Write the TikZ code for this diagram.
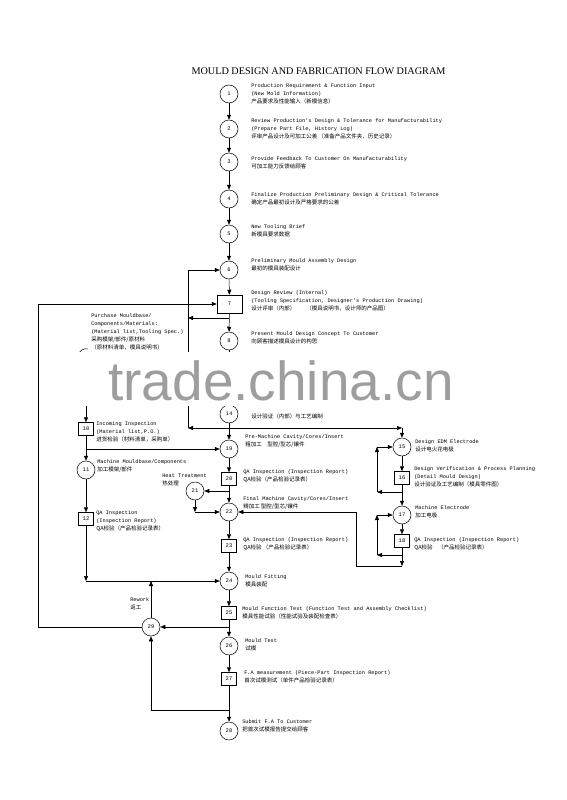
\documentclass[tikz,border=0pt]{standalone}
\usepackage{fontspec}
\setmainfont{Liberation Serif}
\newfontfamily\monof{Liberation Mono}
\newfontfamily\cjk{Noto Sans CJK SC}
\newfontfamily\wmf{Liberation Sans}
\usetikzlibrary{arrows.meta}
\newcommand\zh[1]{{\cjk\fontsize{5.5}{8}\selectfont #1}}
\begin{document}
\begin{tikzpicture}[x=1pt,y=-1pt,line width=0.5pt,
  cnode/.style={circle,draw,minimum size=18pt,inner sep=0pt,font=\monof\fontsize{5.5}{6}\selectfont},
  bnode/.style={rectangle,draw,minimum width=15pt,minimum height=13pt,inner sep=0pt,font=\monof\fontsize{5.5}{6}\selectfont},
  lbl/.style={anchor=west,align=left,inner sep=0pt,font=\monof\fontsize{5.3}{8}\selectfont},
  arr/.style={-{Triangle[length=5pt,width=4pt]}}]
\useasboundingbox (0,0) rectangle (566,800);
\fill[white] (0,0) rectangle (566,800);
\node[font=\fontsize{10.2}{12}\selectfont] (title) at (318.5,71) {MOULD DESIGN AND FABRICATION FLOW DIAGRAM};
% main column
\node[cnode] (n1) at (229,94) {1};
\node[cnode] (n2) at (229,129) {2};
\node[cnode] (n3) at (229,162) {3};
\node[cnode] (n4) at (229,199) {4};
\node[cnode] (n5) at (229,234) {5};
\node[cnode] (n6) at (229,270) {6};
\node[bnode,minimum width=25pt,minimum height=18pt] (n7) at (229.5,304) {7};
\node[cnode] (n8) at (229,341) {8};
\node[cnode] (n14) at (229,414) {14};
\node[cnode] (n19) at (229,449) {19};
\node[bnode] (n20) at (229,479) {20};
\node[cnode] (n22) at (229,512) {22};
\node[bnode] (n23) at (229,546) {23};
\node[cnode] (n24) at (229,581) {24};
\node[bnode] (n25) at (229,613) {25};
\node[cnode] (n26) at (229,646) {26};
\node[bnode] (n27) at (229,679) {27};
\node[cnode] (n28) at (229,731) {28};
\node[cnode] (n29) at (151,627) {29};
\node[cnode] (n21) at (195,491) {21};
% left column
\node[bnode] (n10) at (86,429) {10};
\node[cnode] (n11) at (86,470) {11};
\node[bnode] (n12) at (86,519) {12};
% right column
\node[cnode] (n15) at (402,447) {15};
\node[bnode] (n16) at (402,478) {16};
\node[cnode] (n17) at (402,515) {17};
\node[bnode] (n18) at (402,541) {18};
% labels
\node[lbl] (l1) at (251,94) {Production Requirement \& Function Input\\(New Mold Information)\\\zh{产品要求及性能输入（新模信息）}};
\node[lbl] (l2) at (251,129) {Review Production's Design \& Tolerance for Manufacturability\\(Prepare Part File, History Log)\\\zh{评审产品设计及可加工公差 （准备产品文件夹，历史记录）}};
\node[lbl] (l3) at (251,163) {Provide Feedback To Customer On Manufacturability\\\zh{可加工能力反馈给顾客}};
\node[lbl] (l4) at (251,199) {Finalize Production Preliminary Design \& Critical Tolerance\\\zh{确定产品最初设计及严格要求的公差}};
\node[lbl] (l5) at (251,231) {New Tooling Brief\\\zh{新模具要求数据}};
\node[lbl] (l6) at (251,265) {Preliminary Mould Assembly Design\\\zh{最初的模具装配设计}};
\node[lbl] (l7) at (251,301) {Design Review (Internal)\\(Tooling Specification, Designer's Production Drawing)\\\zh{设计评审（内部）\quad\quad（模具说明书，设计师的产品图）}};
\node[lbl] (l8) at (251,338) {Present Mould Design Concept To Customer\\\zh{向顾客描述模具设计的构思}};
\node[lbl] (l14) at (251,416) {\zh{设计验证（内部）与工艺编制}};
\node[lbl] (l19) at (245,441) {Pre-Machine Cavity/Cores/Insert\\\zh{粗加工\quad 型腔/型芯/镶件}};
\node[lbl] (l20) at (243,476) {QA Inspection (Inspection Report)\\\zh{QA检验（产品检验记录表）}};
\node[lbl] (l22) at (243,503) {Final Machine Cavity/Cores/Insert\\\zh{精加工 型腔/型芯/镶件}};
\node[lbl] (l23) at (243,544) {QA Inspection (Inspection Report)\\\zh{QA检验 （产品检验记录表）}};
\node[lbl] (l24) at (245,581) {Mould Fitting\\\zh{模具装配}};
\node[lbl] (l25) at (242,613) {Mould Function Test  (Function Test and Assembly Checklist)\\\zh{模具性能试验（性能试验及装配检查表）}};
\node[lbl] (l26) at (245,645) {Mould Test\\\zh{试模}};
\node[lbl] (l27) at (244,677) {F.A measurement (Piece-Part Inspection Report)\\\zh{首次试模测试（单件产品检验记录表）}};
\node[lbl] (l28) at (242,726) {Submit F.A To Customer\\\zh{把首次试模报告提交给顾客}};
\node[lbl] (l29) at (130,604) {Rework\\\zh{返工}};
\node[lbl] (l21) at (162,480) {Heat Treatment\\\zh{热处理}};
\node[lbl] (l10) at (96,432) {Incoming Inspection\\(Material list,P.O.)\\\zh{进货检验（材料清单，采购单）}};
\node[lbl] (l11) at (97,466) {Machine Mouldbase/Components\\\zh{加工模架/部件}};
\node[lbl] (l12) at (96,521) {QA Inspection\\ (Inspection Report)\\\zh{QA检验（产品检验记录表）}};
\node[lbl] (lp) at (91,332) {Purchase Mouldbase/\\Components/Materials:\\(Material list,Tooling Spec.)\\\zh{采购模架/部件/原材料}\\\zh{（原材料清单，模具说明书）}};
\node[lbl] (l15) at (415,446) {Design EDM Electrode\\\zh{设计电火花电极}};
\node[lbl] (l16) at (414,477) {Design Verification \& Process Planning\\(Detail Mould Design)\\\zh{设计验证及工艺编制（模具零件图）}};
\node[lbl] (l17) at (415,512) {Machine Electrode\\\zh{加工电极}};
\node[lbl] (l18) at (414,544) {QA Inspection (Inspection Report)\\\zh{QA检验\quad （产品检验记录表）}};
% main chain
\draw[arr] (n1) -- (n2);
\draw[arr] (n2) -- (n3);
\draw[arr] (n3) -- (n4);
\draw[arr] (n4) -- (n5);
\draw[arr] (n5) -- (n6);
\draw[arr] (n6) -- (n7);
\draw[arr] (n7) -- (n8);
\draw[arr] (n8) -- (n14);
\draw[arr] (n14) -- (n19);
\draw[arr] (n19) -- (n20);
\draw[arr] (n20) -- (n22);
\draw[arr] (n22) -- (n23);
\draw[arr] (n23) -- (n24);
\draw[arr] (n24) -- (n25);
\draw[arr] (n25) -- (n26);
\draw[arr] (n26) -- (n27);
\draw[arr] (n27) -- (n28);
% rework loop
\coordinate (jL7) at (38,304);
\coordinate (jL29) at (38,627);
\draw[arr] (n29.west) -- (jL29) -- (jL7) -- (n7.west);
\coordinate (j25) at (229,627);
\draw[arr] (j25) -- (n29.east);
\coordinate (c151) at (151,581);
\draw[arr] (n29) -- (c151);
\coordinate (j27) at (229,710);
\coordinate (c151b) at (151,710);
\draw[arr] (j27) -- (c151b) -- (n29.south);
% loops to 6 and 15
\coordinate (j7) at (229,318);
\coordinate (c188a) at (188,318);
\draw[arr] (j7) -- (c188a);
\coordinate (c188top) at (188,270);
\coordinate (c188bot) at (188,428);
\coordinate (j14) at (229,428);
\coordinate (c15) at (402,428);
\draw[arr] (j14) -- (c188bot);
\draw[arr] (c188bot) -- (c188top) -- (n6.west);
\draw[arr] (j14) -- (c15);
\draw[arr] (c15) -- (n15.north);
% left column
\coordinate (pL) at (86,353);
\draw (77,357) .. controls (79,350) and (84,348) .. (88,349);
\draw[arr] (pL) -- (n10.north);
\draw[arr] (n10) -- (n11);
\draw[arr] (n11) -- (n12);
\coordinate (j10) at (86,449);
\draw[arr] (j10) -- (n19.west);
\coordinate (c86) at (86,581);
\draw[arr] (n12) -- (c86);
\draw[arr] (c86) -- (n24.west);
% heat treatment
\coordinate (j20) at (229,491);
\draw[arr] (j20) -- (n21.east);
\coordinate (c195) at (195,512);
\draw[arr] (n21) -- (c195);
\draw[arr] (c195) -- (n22.west);
% electrode column
\draw[arr] (n15) -- (n16);
\draw[arr] (n16) -- (n17);
\draw[arr] (n17) -- (n18);
\coordinate (j16) at (402,492);
\coordinate (c377a) at (377,492);
\coordinate (c377b) at (377,447);
\draw[arr] (j16) -- (c377a);
\draw[arr] (c377a) -- (c377b);
\draw[arr] (c377b) -- (n15.west);
\coordinate (j18) at (402,555);
\coordinate (c377c) at (377,555);
\coordinate (c377d) at (377,515);
\draw[arr] (j18) -- (c377c);
\draw[arr] (c377c) -- (c377d);
\draw[arr] (c377d) -- (n17.west);
\coordinate (c402) at (402,566);
\coordinate (c356b) at (356,566);
\coordinate (c356t) at (356,512);
\draw[arr] (n18) -- (c402);
\draw[arr] (c402) -- (c356b) -- (c356t) -- (n22.east);
% watermark band
\fill[white] (45,352) rectangle (540,406);
\node[font=\wmf\fontsize{55}{55}\selectfont,text=black!38,anchor=base west,inner sep=0pt] (wm) at (108,400) {trade.china.cn};
\end{tikzpicture}
\end{document}
